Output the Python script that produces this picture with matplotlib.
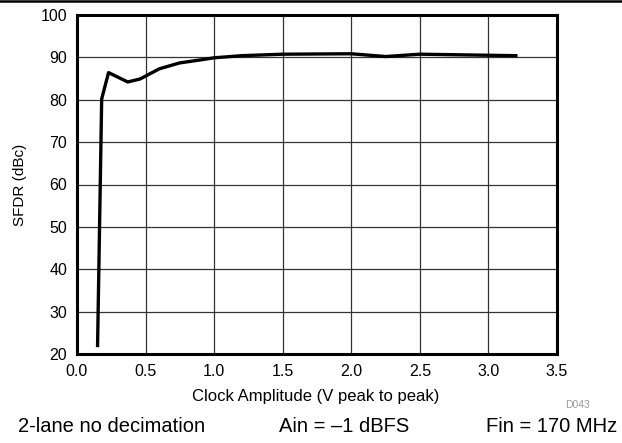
import matplotlib
matplotlib.use("Agg")
import matplotlib.pyplot as plt
from matplotlib.lines import Line2D

plt.rcParams['font.family'] = ['Liberation Sans', 'DejaVu Sans']

# Данные
clock_amp = [0.15, 0.18, 0.23, 0.37, 0.46, 0.6, 0.75, 0.9, 1.0, 1.2, 1.5, 2.0, 2.25, 2.5, 3.0, 3.2]
sfdr = [22, 80.2, 86.4, 84.2, 84.9, 87.3, 88.7, 89.4, 89.9, 90.4, 90.75, 90.85, 90.2, 90.75, 90.5, 90.4]
x_ticks = [0.0, 0.5, 1.0, 1.5, 2.0, 2.5, 3.0, 3.5]
y_ticks = [20, 30, 40, 50, 60, 70, 80, 90, 100]

fig = plt.figure(figsize=(6.22, 4.43), dpi=100)
ax = fig.add_axes([77 / 622, 1 - 354 / 443, 480 / 622, 339 / 443])

ax.plot(clock_amp, sfdr, color='black', linewidth=2.4, zorder=3)

ax.set_xlim(0, 3.5)
ax.set_ylim(20, 100)
ax.set_xticks(x_ticks)
ax.set_xticklabels([f'{v:.1f}' for v in x_ticks])
ax.set_yticks(y_ticks)
ax.tick_params(length=0, labelsize=11.5, pad=7)
ax.grid(True, color='#333333', linewidth=0.9)
for s in ax.spines.values():
    s.set_linewidth(2.2)

ax.set_ylabel('SFDR (dBc)', fontsize=11, labelpad=10)
fig.text(316 / 622, 1 - 396 / 443, 'Clock Amplitude (V peak to peak)',
         ha='center', va='center', fontsize=12)
fig.text(578 / 622, 1 - 405 / 443, 'D043', ha='center', va='center',
         fontsize=7.5, color='#999999')

# Подписи условий измерения
fig.text(18 / 622, 1 - 427 / 443, '2-lane no decimation', ha='left', va='center', fontsize=14.5)
fig.text(279 / 622, 1 - 427 / 443, 'Ain = \u20131 dBFS', ha='left', va='center', fontsize=14.5)
fig.text(617 / 622, 1 - 427 / 443, 'Fin = 170 MHz', ha='right', va='center', fontsize=14.5)

# Линия сверху
fig.add_artist(Line2D([0, 1], [1 - 1.2 / 443, 1 - 1.2 / 443], color='black',
                      linewidth=1.8, transform=fig.transFigure))

fig.savefig('out.png', dpi=100)
